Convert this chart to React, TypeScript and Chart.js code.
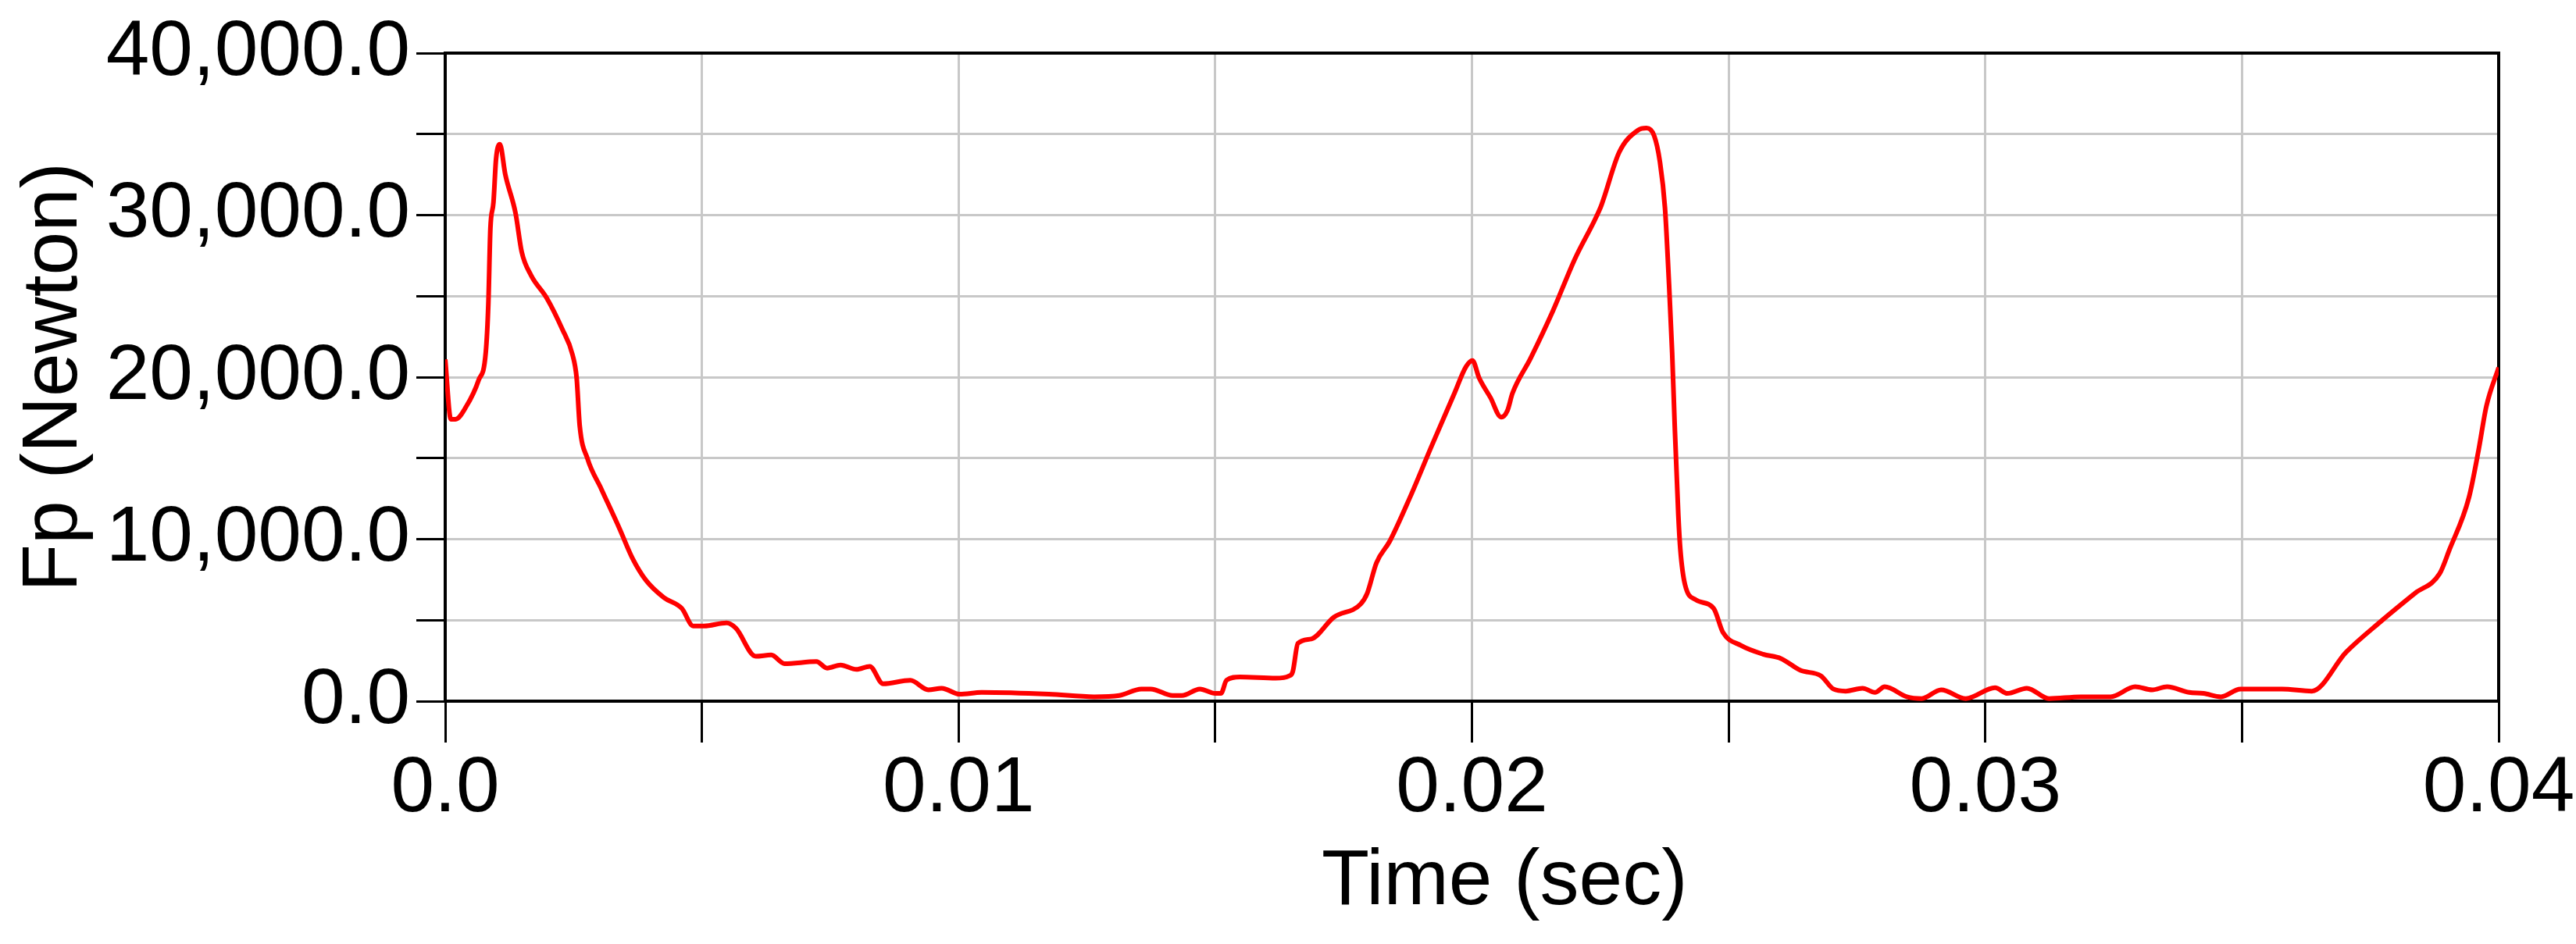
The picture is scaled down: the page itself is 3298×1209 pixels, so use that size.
import React, { useEffect, useRef } from 'react';
import { Chart, registerables } from 'chart.js';

Chart.register(...registerables);

// Time in seconds
const timeSec = [
  0.0, 0.00011, 0.0002, 0.00041, 0.00065, 0.00079, 0.00084, 0.00088, 0.00094, 0.00099,
  0.001065, 0.00117, 0.00137, 0.00149, 0.00167, 0.00198, 0.00228, 0.00248, 0.00256, 0.00262,
  0.00277, 0.00304, 0.00339, 0.00365, 0.00391, 0.00426, 0.00461, 0.00483, 0.00504, 0.00548,
  0.00566, 0.00605, 0.00635, 0.00661, 0.00723, 0.00744, 0.0077, 0.00801, 0.00827, 0.00853,
  0.00906, 0.00941, 0.00967, 0.01002, 0.01045, 0.01176, 0.01264, 0.01313, 0.01356, 0.01374,
  0.01417, 0.01435, 0.0147, 0.015, 0.01511, 0.01522, 0.01548, 0.01618, 0.01644, 0.01651,
  0.01661, 0.01687, 0.01731, 0.01783, 0.01796, 0.01814, 0.0184, 0.01879, 0.01922, 0.01966,
  0.01988, 0.02001, 0.02014, 0.02036, 0.02057, 0.02069, 0.02079, 0.02114, 0.02158, 0.02201,
  0.0224, 0.02252, 0.02287, 0.02323, 0.0234, 0.02355, 0.02366, 0.02376, 0.02384, 0.0239,
  0.02395, 0.02402, 0.02406, 0.02415, 0.02436, 0.02471, 0.02489, 0.02524, 0.02567, 0.02602,
  0.0264, 0.0268, 0.02704, 0.02728, 0.02761, 0.02785, 0.02804, 0.02847, 0.02876, 0.02914,
  0.02962, 0.03019, 0.03043, 0.03081, 0.03124, 0.03186, 0.03244, 0.03292, 0.03325, 0.03354,
  0.03397, 0.03425, 0.03459, 0.03497, 0.0354, 0.03578, 0.03636, 0.03703, 0.0377, 0.03837,
  0.03885, 0.03904, 0.03942, 0.03961, 0.03976, 0.04,
];

// Fp in Newton
const forceN = [
  21100, 17400, 17400, 18190, 19810, 21530, 24500, 29170, 30790, 33460,
  34370, 32510, 30120, 27730, 26300, 24870, 22960, 21380, 19950, 17000,
  14980, 13100, 10690, 8800, 7460, 6390, 5720, 4640, 4640, 4830,
  4510, 2770, 2850, 2310, 2440, 2040, 2230, 1960, 2150, 1070,
  1290, 700, 800, 430, 540, 430, 270, 350, 750, 750,
  350, 350, 750, 480, 480, 1290, 1500, 1420, 1560, 1830,
  3570, 3840, 5180, 5990, 6660, 8540, 9880, 12560, 15790, 19010,
  20620, 21020, 19950, 18740, 17530, 17930, 19010, 21150, 24110, 27330,
  29750, 30600, 33890, 35230, 35370, 34890, 33320, 30450, 25700, 21500,
  17000, 11490, 9340, 7200, 6260, 5720, 4240, 3440, 2900, 2630,
  1900, 1560, 750, 620, 800, 540, 890, 270, 160, 700,
  160, 830, 480, 800, 160, 270, 270, 890, 700, 890,
  540, 480, 270, 750, 750, 750, 620, 3030, 4910, 6660,
  7870, 9340, 12560, 15520, 18200, 20600,
];

const xAxisTitle = 'Time (sec)';
const yAxisTitle = 'Fp (Newton)';
const xMin = 0;
const xMax = 0.04;
const xStep = 0.005;
const yMin = 0;
const yMax = 40000;
const yStep = 5000;

const FONT = "'Liberation Sans', Arial, Helvetica, sans-serif";

export default function App() {
  const canvasRef = useRef<HTMLCanvasElement>(null);

  useEffect(() => {
    document.body.style.margin = '0';
    const canvas = canvasRef.current;
    if (!canvas) return;

    const framePlugin = {
      id: 'plotFrame',
      beforeDatasetsDraw(chart: any) {
        const { ctx, chartArea: a } = chart;
        ctx.save();
        ctx.strokeStyle = '#000000';
        ctx.lineWidth = 4;
        ctx.strokeRect(a.left, a.top, a.right - a.left, a.bottom - a.top);
        ctx.restore();
      },
    };

    const chart = new Chart(canvas, {
      type: 'line',
      data: {
        datasets: [
          {
            data: timeSec.map((t, i) => ({ x: t, y: forceN[i] })),
            borderColor: '#ff0000',
            borderWidth: 6,
            pointRadius: 0,
            cubicInterpolationMode: 'monotone',
            fill: false,
          },
        ],
      },
      options: {
        animation: false,
        responsive: true,
        maintainAspectRatio: false,
        devicePixelRatio: 1,
        layout: { padding: { top: 60, right: 99, bottom: 0, left: 0 } },
        plugins: {
          legend: { display: false },
          tooltip: { enabled: false },
        },
        scales: {
          x: {
            type: 'linear',
            min: xMin,
            max: xMax,
            afterFit: (s: any) => {
              s.height = 311;
            },
            ticks: {
              stepSize: xStep,
              autoSkip: false,
              maxRotation: 0,
              minRotation: 0,
              padding: 0,
              color: '#000000',
              font: { family: FONT, size: 100 },
              callback: (v: any, i: number) => {
                if (i % 2 !== 0) return '';
                const n = Number(v);
                return n === 0 ? '0.0' : n.toFixed(2);
              },
            },
            grid: {
              color: '#c8c8c8',
              lineWidth: 3,
              tickColor: '#000000',
              tickLength: 53,
              tickWidth: 3,
            },
            border: { color: '#000000', width: 4 },
            title: {
              display: true,
              text: '   ' + xAxisTitle,
              color: '#000000',
              font: { family: FONT, size: 100 },
              padding: { top: 0, bottom: 19 },
            },
          },
          y: {
            type: 'linear',
            min: yMin,
            max: yMax,
            afterFit: (s: any) => {
              s.width = 570;
            },
            ticks: {
              stepSize: yStep,
              autoSkip: false,
              padding: 8,
              color: '#000000',
              font: { family: FONT, size: 100 },
              callback: (v: any, i: number) => {
                if (i % 2 !== 0) return '';
                return Number(v).toLocaleString('en-US', {
                  minimumFractionDigits: 1,
                  maximumFractionDigits: 1,
                });
              },
            },
            grid: {
              color: '#c8c8c8',
              lineWidth: 3,
              tickColor: '#000000',
              tickLength: 37,
              tickWidth: 3,
            },
            border: { color: '#000000', width: 4 },
            title: {
              display: true,
              text: yAxisTitle,
              color: '#000000',
              font: { family: FONT, size: 100 },
              padding: { top: 10, bottom: 0 },
            },
          },
        },
      },
      plugins: [framePlugin],
    });

    return () => {
      chart.destroy();
    };
  }, []);

  return (
    <div style={{ width: '3298px', height: '1209px', position: 'relative' }}>
      <canvas ref={canvasRef} />
    </div>
  );
}
